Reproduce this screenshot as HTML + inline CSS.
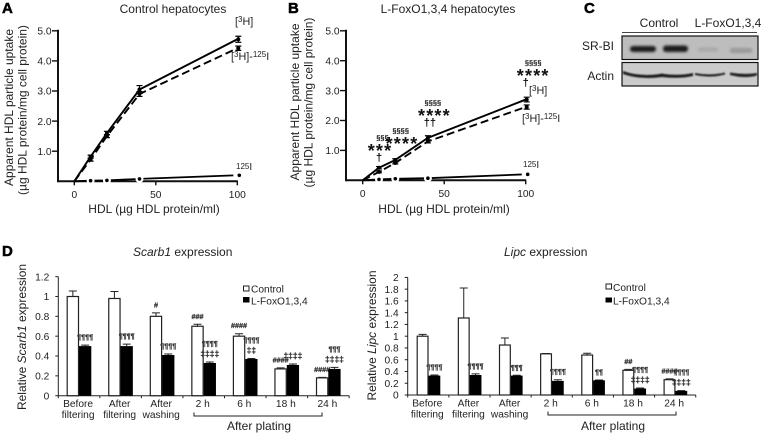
<!DOCTYPE html>
<html lang="en">
<head>
<meta charset="utf-8">
<title>HDL particle uptake and gene expression</title>
<style>
html,body{margin:0;padding:0;background:#fff;}
svg{display:block;font-family:"Liberation Sans",Arial,sans-serif;fill:#222;}
.t{font-size:12px;}
.tk{font-size:10.2px;}
.l{font-size:10.2px;}
.m{font-size:10.8px;}
.s{font-size:8px;}
.p{font-size:15px;font-weight:bold;fill:#000;stroke:#000;stroke-width:.5px;}
</style>
</head>
<body>
<svg id="fig" width="767" height="442" viewBox="0 0 767 442" xmlns="http://www.w3.org/2000/svg">
<defs>
<filter id="b1" x="-30%" y="-100%" width="160%" height="300%"><feGaussianBlur stdDeviation="1.3"/></filter>
<filter id="b2" x="-10%" y="-100%" width="120%" height="300%"><feGaussianBlur stdDeviation="0.8"/></filter>
</defs>

<text class="p" x="2" y="13">A</text>
<text class="p" x="288" y="13">B</text>
<text class="p" x="584" y="13">C</text>
<text class="p" x="2" y="256">D</text>

<!-- Panel A -->
<text class="t" x="173" y="13" text-anchor="middle">Control hepatocytes</text>
<text class="t" transform="translate(13,107.5) rotate(-90)" text-anchor="middle">Apparent HDL particle uptake</text>
<text class="t" transform="translate(26.5,110) rotate(-90)" text-anchor="middle">(µg HDL protein/mg cell protein)</text>
<text class="t" x="154" y="213" text-anchor="middle">HDL (µg HDL protein/ml)</text>
<g id="chartA"></g>
<text class="m" x="235" y="25">[<tspan font-size="8" dy="-3">3</tspan><tspan dy="3">H]</tspan></text>
<text class="m" x="231" y="60">[<tspan font-size="8" dy="-3">3</tspan><tspan dy="3">H]-</tspan><tspan font-size="8" dy="-3">125</tspan><tspan dy="3">I</tspan></text>
<text class="s" x="236" y="169">125<tspan font-size="10" dy="1">I</tspan></text>

<!-- Panel B -->
<text class="t" x="448" y="13" text-anchor="middle">L-FoxO1,3,4 hepatocytes</text>
<text class="t" transform="translate(299,102) rotate(-90)" text-anchor="middle">Apparent HDL particle uptake</text>
<text class="t" transform="translate(312.5,102.5) rotate(-90)" text-anchor="middle">(µg HDL protein/mg cell protein)</text>
<text class="t" x="444" y="213" text-anchor="middle">HDL (µg HDL protein/ml)</text>
<g id="chartB"></g>
<text class="m" x="529" y="94">[<tspan font-size="8" dy="-3">3</tspan><tspan dy="3">H]</tspan></text>
<text class="m" x="522" y="122">[<tspan font-size="8" dy="-3">3</tspan><tspan dy="3">H]-</tspan><tspan font-size="8" dy="-3">125</tspan><tspan dy="3">I</tspan></text>
<text class="s" x="523" y="167">125<tspan font-size="10" dy="1">I</tspan></text>

<!-- Panel C -->
<g>
<text class="t" x="659" y="27" text-anchor="middle">Control</text>
<text class="t" x="728" y="27" text-anchor="middle">L-FoxO1,3,4</text>
<line x1="622" x2="757" y1="32.5" y2="32.5" stroke="#444" stroke-width="1"/>
<text class="t" x="614" y="50" text-anchor="end">SR-BI</text>
<text class="t" x="614" y="80" text-anchor="end">Actin</text>
<rect x="622" y="36" width="136" height="23.5" fill="#bdbdbd" stroke="#111" stroke-width="1.2"/>
<g filter="url(#b1)">
<rect x="630" y="46" width="26" height="6" rx="3" fill="#1c1c1c"/>
<rect x="663" y="45.5" width="25" height="6.5" rx="3" fill="#1c1c1c"/>
<rect x="698" y="47.5" width="20" height="4" rx="2" fill="#a8a8a8"/>
<rect x="730" y="48" width="22" height="5" rx="2" fill="#9a9a9a"/>
</g>
<rect x="622" y="62.5" width="136" height="23.5" fill="#cbcbcb" stroke="#111" stroke-width="1.2"/>
<g filter="url(#b2)">
<path d="M623 71 Q640 77 660 74 Q662 73 664 74 Q680 76 693 73 L693 76 Q680 79 662 77 Q640 80 623 74 Z" fill="#1a1a1a"/>
<path d="M695 73 Q710 76 725 72.5 L725 74.5 Q710 78.5 695 75 Z" fill="#222"/>
<path d="M730 72.5 Q745 75 757 73 L757 75.5 Q745 79 730 75 Z" fill="#222"/>
</g>
</g>

<!-- Panel D left -->
<text class="t" x="133" y="256"><tspan font-style="italic">Scarb1</tspan> expression</text>
<text class="t" transform="translate(26,337) rotate(-90)" text-anchor="middle">Relative <tspan font-style="italic">Scarb1</tspan> expression</text>
<g id="chartD1"></g>
<path d="M194 412.5V416H322V412.5" fill="none" stroke="#222" stroke-width="1"/>
<text class="t" x="259" y="430" text-anchor="middle">After plating</text>
<g>
<rect x="243.5" y="286" width="5.5" height="5" fill="#fff" stroke="#222"/>
<text class="l" x="251" y="292.5">Control</text>
<rect x="243" y="297" width="6.5" height="5.5" fill="#000"/>
<text class="l" x="251" y="304.5">L-FoxO1,3,4</text>
</g>

<!-- Panel D right -->
<text class="t" x="504" y="256"><tspan font-style="italic">Lipc</tspan> expression</text>
<text class="t" transform="translate(376,335.5) rotate(-90)" text-anchor="middle">Relative <tspan font-style="italic">Lipc</tspan> expression</text>
<g id="chartD2"></g>
<path d="M548 411.5V415H676V411.5" fill="none" stroke="#222" stroke-width="1"/>
<text class="t" x="613" y="430" text-anchor="middle">After plating</text>
<g>
<rect x="606" y="284" width="5.5" height="5" fill="#fff" stroke="#222"/>
<text class="l" x="613" y="291">Control</text>
<rect x="605.5" y="297.5" width="6.5" height="5" fill="#000"/>
<text class="l" x="613" y="304.5">L-FoxO1,3,4</text>
</g>
</svg>

<script>
// ---- Data: uptake line charts ----
const doses = [0, 10, 20, 40, 100];
const uptakeYTicks = [1, 2, 3, 4, 5];
const uptakeYLabels = ['1.0', '2.0', '3.0', '4.0', '5.0'];
const uptakeXTicks = [0, 50, 100];
const controlH3 = [0, 0.82, 1.6, 3.05, 4.72];
const controlH3Err = [0, 0.05, 0.06, 0.13, 0.1];
const controlDiff = [0, 0.72, 1.5, 2.9, 4.42];
const controlDiffErr = [0, 0.05, 0.05, 0.08, 0.07];
const controlI125 = [0, 0.02, 0.03, 0.08, 0.2];
const foxoH3 = [0, 0.42, 0.68, 1.42, 2.7];
const foxoH3Err = [0, 0.04, 0.04, 0.07, 0.08];
const foxoDiff = [0, 0.28, 0.58, 1.3, 2.45];
const foxoDiffErr = [0, 0.03, 0.03, 0.05, 0.07];
const foxoI125 = [0, 0.03, 0.05, 0.07, 0.2];
const foxoMarkDoses = [10, 20, 40, 100];
const foxoMarks = [['†', '***', '§§§'], ['****', '§§§§'], ['††', '****', '§§§§'], ['†', '****', '§§§§']];

// ---- Data: expression bar charts ----
const stageLines = [['Before', 'filtering'], ['After', 'filtering'], ['After', 'washing'], ['2 h'], ['6 h'], ['18 h'], ['24 h']];
const scarbYTicks = [0, 0.2, 0.4, 0.6, 0.8, 1, 1.2];
const scarbControl = [1, 0.98, 0.8, 0.7, 0.6, 0.27, 0.18];
const scarbControlErr = [0.055, 0.07, 0.035, 0.02, 0.025, 0.01, 0.005];
const scarbFoxo = [0.5, 0.5, 0.41, 0.33, 0.37, 0.31, 0.27];
const scarbFoxoErr = [0.01, 0.02, 0.01, 0.01, 0.005, 0.01, 0.015];
const scarbControlMarks = [[], [], ['#'], ['###'], ['####'], ['####'], ['####']];
const scarbFoxoMarks = [['¶¶¶¶'], ['¶¶¶¶'], ['¶¶¶¶'], ['‡‡‡‡', '¶¶¶¶'], ['‡‡', '¶¶¶¶'], ['‡‡‡‡'], ['‡‡‡‡', '¶¶¶']];
const lipcYTicks = [0, 0.2, 0.4, 0.6, 0.8, 1, 1.2, 1.4, 1.6, 1.8, 2];
const lipcControl = [1, 1.31, 0.85, 0.7, 0.68, 0.42, 0.26];
const lipcControlErr = [0.03, 0.51, 0.12, 0.005, 0.03, 0.015, 0.015];
const lipcFoxo = [0.33, 0.34, 0.33, 0.24, 0.25, 0.11, 0.07];
const lipcFoxoErr = [0.01, 0.02, 0.005, 0.02, 0.005, 0.01, 0.005];
const lipcControlMarks = [[], [], [], [], [], ['##'], ['####']];
const lipcFoxoMarks = [['¶¶¶¶'], ['¶¶¶¶'], ['¶¶¶'], ['¶¶¶¶'], ['¶¶'], ['‡‡‡‡', '¶¶¶¶'], ['‡‡‡‡', '¶¶¶¶']];

const NS = 'http://www.w3.org/2000/svg';
function mk(tag, parent, attrs) {
  const el = document.createElementNS(NS, tag);
  for (const k in attrs) el.setAttribute(k, attrs[k]);
  parent.appendChild(el);
  return el;
}

function drawUptake(root, o) {
  const sx = v => o.x0 + (v / 100) * o.xw;
  const sy = v => o.y0 - v * o.unit;

  const yAxis = mk('line', root, {x1: o.ax, x2: o.ax, y1: sy(5) - 1, y2: o.y0 + 1, stroke: '#111', 'stroke-width': 2});
  
  
  const xAxis = mk('line', root, {x1: o.ax, x2: sx(100) + 0.5, y1: o.y0, y2: o.y0, stroke: '#111', 'stroke-width': 2});
  
  

  uptakeYTicks.forEach((v, i) => {
    const tick = mk('line', root, {x1: o.ax - 6, x2: o.ax, y1: sy(v), y2: sy(v), stroke: '#111', 'stroke-width': 1.4});
    
    
    const lab = mk('text', root, {x: o.ax - 6.5, y: sy(v) + 3.7, 'text-anchor': 'end', class: 'tk'});
    
    
    lab.textContent = uptakeYLabels[i];
  });
  uptakeXTicks.forEach(v => {
    const tick = mk('line', root, {x1: sx(v), x2: sx(v), y1: o.y0, y2: o.y0 + 4, stroke: '#111', 'stroke-width': 1.4});
    
    
    const lab = mk('text', root, {x: sx(v), y: o.y0 + 16.5, 'text-anchor': 'middle', class: 'tk'});
    
    
    lab.textContent = String(v);
  });

  const poly = vals => vals.map((v, i) => sx(doses[i]) + ',' + sy(v)).join(' ');

  const lineI = mk('polyline', root, {points: poly(o.i125), fill: 'none', stroke: '#000', 'stroke-width': 1.8});
  
  
  o.i125.forEach((v, i) => {
    if (i === 0) return;
    const halo = mk('circle', root, {cx: sx(doses[i]), cy: sy(v), r: 4, fill: '#fff'});
    
    
    const dot = mk('circle', root, {cx: sx(doses[i]) + (i === 4 ? 2 : 0), cy: sy(v), r: 1.8, fill: '#000'});
    
    
  });

  const lineD = mk('polyline', root, {points: poly(o.diff), fill: 'none', stroke: '#000', 'stroke-width': 1.9, 'stroke-dasharray': '8 4'});
  
  
  const lineH = mk('polyline', root, {points: poly(o.h3), fill: 'none', stroke: '#000', 'stroke-width': 1.9});
  
  

  [[o.h3, o.h3Err, 'series-3h-point'], [o.diff, o.diffErr, 'series-3h-125i-point']].forEach(s => {
    s[0].forEach((v, i) => {
      if (i === 0) return;
      const px = sx(doses[i]) + (i === 4 ? 1 : 0);
      const top = sy(v + s[1][i]);
      const bot = sy(v - s[1][i]);
      const err = mk('path', root, {d: 'M' + (px - 3) + ' ' + top + 'H' + (px + 3) + 'M' + px + ' ' + top + 'V' + bot + 'M' + (px - 3) + ' ' + bot + 'H' + (px + 3), fill: 'none', stroke: '#000', 'stroke-width': 1.2});
      
      
      const dot = mk('circle', root, {cx: px, cy: sy(v), r: 2, fill: '#000'});
      
      
    });
  });
}

function drawBars(root, o) {
  const tickX = i => o.ax + i * o.step;
  const sy = v => o.y0 - v * o.unit;

  const yAxis = mk('line', root, {x1: o.ax, x2: o.ax, y1: sy(o.yTicks[o.yTicks.length - 1]), y2: o.y0 + 0.5, stroke: '#222', 'stroke-width': 1});
  
  
  const xAxis = mk('line', root, {x1: o.ax, x2: tickX(o.control.length), y1: o.y0, y2: o.y0, stroke: '#222', 'stroke-width': 1});
  
  

  o.yTicks.forEach(v => {
    const tick = mk('line', root, {x1: o.ax - 3, x2: o.ax, y1: sy(v), y2: sy(v), stroke: '#222', 'stroke-width': 1});
    
    
    const lab = mk('text', root, {x: o.ax - 9, y: sy(v) + 3.7, 'text-anchor': 'end', class: 'tk'});
    
    
    lab.textContent = String(v);
  });

  for (let i = 0; i <= o.control.length; i++) {
    const tick = mk('line', root, {x1: tickX(i), x2: tickX(i), y1: o.y0, y2: o.y0 + 2.5, stroke: '#222', 'stroke-width': 1});
    
    
  }

  stageLines.forEach((lines, i) => {
    lines.forEach((line, j) => {
      const lab = mk('text', root, {x: tickX(i) + o.step / 2 - 1, y: o.y0 + 11.5 + j * 11, 'text-anchor': 'middle', class: 'tk'});
      
      
      lab.textContent = line;
    });
  });

  function marks(cx, top, lines) {
    lines.forEach((m, k) => {
      const isDagger = m.charAt(0) === '‡';
      const t = mk('text', root, {x: cx, y: top - 5.5 - k * 10.5, 'text-anchor': 'middle', 'font-size': isDagger ? 8.5 : 7.2, 'font-weight': 'bold', fill: '#333', stroke: '#333', 'stroke-width': 0.25});
      
      
      t.textContent = m;
    });
  }

  function errorBar(cx, v, e) {
    const err = mk('path', root, {d: 'M' + cx + ' ' + sy(v) + 'V' + sy(v + e) + 'M' + (cx - 4) + ' ' + sy(v + e) + 'H' + (cx + 4), fill: 'none', stroke: '#222', 'stroke-width': 1});
    
    
  }

  o.control.forEach((v, i) => {
    const x = tickX(i) + o.off;
    errorBar(x + o.bw / 2, v, o.controlErr[i]);
    const bar = mk('rect', root, {x: x + 0.5, y: sy(v), width: o.bw - 1, height: o.y0 - sy(v), fill: '#fff', stroke: '#222', 'stroke-width': 1.2});
    
    
    marks(x + o.bw / 2, sy(v + o.controlErr[i]), o.controlMarks[i]);
  });
  o.foxo.forEach((v, i) => {
    const x = tickX(i) + o.off + o.bw;
    errorBar(x + o.bw / 2, v, o.foxoErr[i]);
    const bar = mk('rect', root, {x: x, y: sy(v), width: o.bw, height: o.y0 - sy(v), fill: '#000'});
    
    
    marks(x + o.bw / 2, sy(v + o.foxoErr[i]), o.foxoMarks[i]);
  });
}

drawUptake(document.getElementById('chartA'), {ax: 58, x0: 74.3, xw: 163, y0: 181.3, unit: 30.1, h3: controlH3, h3Err: controlH3Err, diff: controlDiff, diffErr: controlDiffErr, i125: controlI125});
drawUptake(document.getElementById('chartB'), {ax: 346, x0: 362.7, xw: 163, y0: 180.3, unit: 29.9, h3: foxoH3, h3Err: foxoH3Err, diff: foxoDiff, diffErr: foxoDiffErr, i125: foxoI125});

// Panel B significance stacks, placed above their dose on the shared axis functions
(function () {
  const root = document.getElementById('chartB');
  const sx = v => 362.7 + (v / 100) * 163;
  const sy = v => 180.3 - v * 29.9;
  const stackLift = [10.7, 20, 15.8, 17.6];
  const nudgeDagger = [0, 0, 2, 0];
  const nudgeStar = [1, 6.7, 6.5, 7.5];
  const nudgeSection = [3.5, 5.4, 5, 7.5];
  foxoMarkDoses.forEach((d, i) => {
    const val = foxoH3[doses.indexOf(d)];
    foxoMarks[i].forEach((m, k) => {
      const ch = m.charAt(0);
      const isStar = ch === '*';
      const isSection = ch === '§';
      const size = isStar ? 18 : isSection ? 7.5 : 11;
      const shift = isStar ? nudgeStar[i] : isSection ? nudgeSection[i] : nudgeDagger[i];
      const drop = isStar ? 10 : isSection ? 3 : 4;
      const t = mk('text', root, {x: sx(d) + shift, y: sy(val) - stackLift[i] - k * 10 + drop, 'text-anchor': 'middle', 'font-size': size, 'font-weight': 'bold', 'letter-spacing': isStar ? 1.2 : 0, fill: '#111'});
      
      
      t.textContent = m;
    });
  });
})();

drawBars(document.getElementById('chartD1'), {ax: 58.3, step: 41.55, off: 8.4, bw: 12.3, y0: 395.7, unit: 99.2, yTicks: scarbYTicks, control: scarbControl, controlErr: scarbControlErr, foxo: scarbFoxo, foxoErr: scarbFoxoErr, controlMarks: scarbControlMarks, foxoMarks: scarbFoxoMarks});
drawBars(document.getElementById('chartD2'), {ax: 407.7, step: 41.15, off: 9, bw: 11.8, y0: 395, unit: 58.8, yTicks: lipcYTicks, control: lipcControl, controlErr: lipcControlErr, foxo: lipcFoxo, foxoErr: lipcFoxoErr, controlMarks: lipcControlMarks, foxoMarks: lipcFoxoMarks});
</script>
</body>
</html>
